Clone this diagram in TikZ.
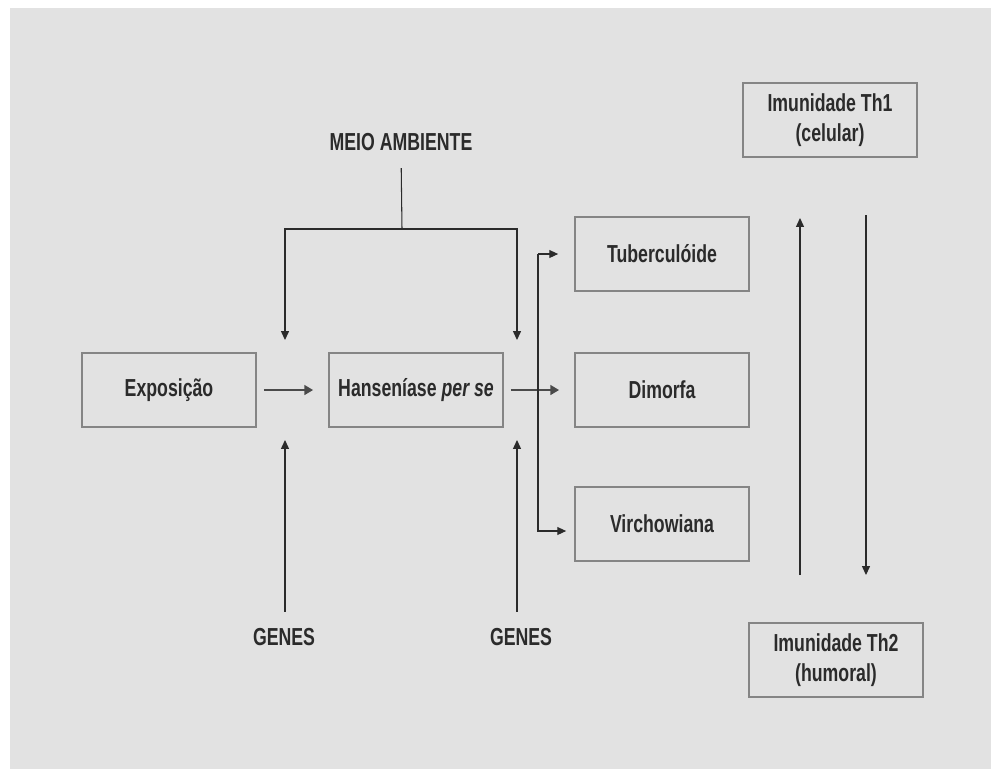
\documentclass[tikz,border=0pt]{standalone}
\usepackage{fontspec}
\setmainfont[FakeStretch=0.72]{Liberation Sans}
\usetikzlibrary{arrows.meta}
\definecolor{fundo}{HTML}{E2E2E2}
\definecolor{texto}{HTML}{2B2B2B}
\definecolor{borda}{HTML}{858585}
\definecolor{grosso}{HTML}{4A4A4A}
\tikzstyle{caixa}=[draw=borda, line width=1pt, minimum width=3.48cm, minimum height=1.48cm, inner sep=0pt, align=center, text=texto, font=\fontsize{14}{17}\selectfont\bfseries]
\tikzstyle{rotulo}=[inner sep=0pt, text=texto, font=\fontsize{14}{17}\selectfont\bfseries]
\tikzstyle{fio}=[draw=texto, line width=0.6pt]
\tikzstyle{seta}=[fio, -{Triangle[length=5pt,width=4.5pt]}]
\tikzstyle{setagrossa}=[draw=grosso, line width=1.6pt, -{Triangle[length=5pt,width=5.5pt]}, shorten <=0.14cm, shorten >=0.3cm]
\newcommand{\caixa}{\node[caixa]}
\newcommand{\rotulo}{\node[rotulo]}

\begin{document}
\begin{tikzpicture}[x=0.02cm, y=-0.02cm]
\useasboundingbox (0,0) rectangle (991,769);
\fill[fundo] (10,8) rectangle (991,769);
% caixas
\caixa (expo) at (169,390) {Exposição};
\caixa (hans) at (416,390) {Hanseníase \textit{per se}};
\caixa (tub) at (662,254) {Tuberculóide};
\caixa (dim) at (662,390) {Dimorfa};
\caixa (vir) at (662,524) {Virchowiana};
\caixa (th1) at (830,120) {Imunidade Th1\\(celular)};
\caixa (th2) at (836,660) {Imunidade Th2\\(humoral)};
% rotulos
\rotulo (meio) at (401,142) {MEIO AMBIENTE};
\rotulo (genes1) at (284,637) {GENES};
\rotulo (genes2) at (521,637) {GENES};
% pontos livres
\coordinate (juncao) at (402,229);
\coordinate (m1) at (285,340);
\coordinate (m2) at (517,340);
\coordinate (g1) at (285,440);
\coordinate (g2) at (517,440);
\coordinate (ramo) at (538,254);
\coordinate (sobe) at (800,218);
\coordinate (sobebase) at (800,575);
\coordinate (desce) at (866,575);
\coordinate (descetopo) at (866,215);
% ligacoes
\draw[fio, shorten <=0.34cm] (meio.south) -- (juncao);
\draw[seta] (juncao) -| (m1);
\draw[seta] (juncao) -| (m2);
\draw[seta, shorten <=0.32cm] (g1 |- genes1.north) -- (g1);
\draw[seta, shorten <=0.32cm] (g2 |- genes2.north) -- (g2);
\draw[setagrossa] (expo.east) -- (hans.west);
\draw[setagrossa] (hans.east) -- (dim.west);
\draw[seta, shorten >=0.32cm] (ramo) -- (tub.west);
\draw[seta, shorten >=0.16cm] (ramo) |- ([yshift=-0.14cm]vir.west);
\draw[seta] (sobebase) -- (sobe);
\draw[seta] (descetopo) -- (desce);
\end{tikzpicture}
\end{document}
